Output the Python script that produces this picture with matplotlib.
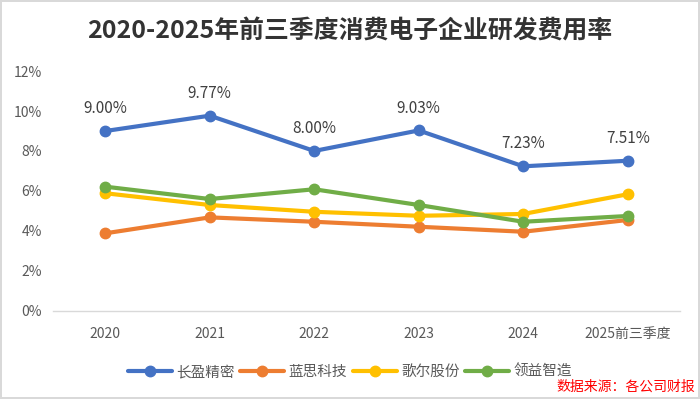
import matplotlib
matplotlib.use("Agg")
import matplotlib.pyplot as plt
from matplotlib.ticker import FuncFormatter, MultipleLocator

plt.rcParams['font.family'] = ['Noto Sans CJK SC', 'DejaVu Sans']

categories = ["2020", "2021", "2022", "2023", "2024", "2025前三季度"]
changying = [9.00, 9.77, 8.00, 9.03, 7.23, 7.51]
lansi = [3.87, 4.67, 4.45, 4.20, 3.95, 4.54]
goertek = [5.88, 5.29, 4.95, 4.75, 4.84, 5.83]
lingyi = [6.21, 5.59, 6.08, 5.29, 4.45, 4.74]
series_names = ["长盈精密", "蓝思科技", "歌尔股份", "领益智造"]
colors = ["#4472C4", "#ED7D31", "#FFC000", "#70AD47"]

fig = plt.figure(figsize=(7.0, 3.99), dpi=100)
fig.patch.set_facecolor("white")
fig.patch.set_edgecolor("#D9D9D9")
fig.patch.set_linewidth(1.5)

ax = fig.add_axes([53/700, 1 - 310.5/399, 627/700, (310.5 - 71.2)/399])
x = list(range(len(categories)))
for name, vals, c in zip(series_names, [changying, lansi, goertek, lingyi], colors):
    ax.plot(x, vals, color=c, lw=3, marker='o', ms=7.5, label=name, solid_capstyle='round')

for xi, v in zip(x, changying):
    ax.annotate(f"{v:.2f}%", (xi, v), xytext=(0, 10), textcoords="offset points",
                ha='center', va='bottom', fontsize=11, color="#404040")

ax.set_xlim(-0.5, 5.5)
ax.set_ylim(0, 12)
ax.yaxis.set_major_locator(MultipleLocator(2))
ax.yaxis.set_major_formatter(FuncFormatter(lambda v, p: f"{v:.0f}%"))
ax.set_xticks(x)
ax.set_xticklabels(categories)
for s in ["top", "right", "left"]:
    ax.spines[s].set_visible(False)
ax.spines["bottom"].set_color("#D9D9D9")
ax.spines["bottom"].set_linewidth(1)
ax.tick_params(axis='both', length=0, labelsize=10, colors="#595959")
ax.tick_params(axis='x', pad=12)
ax.tick_params(axis='y', pad=8)

fig.text(0.5, 1 - 32/399, "2020-2025年前三季度消费电子企业研发费用率", ha='center', va='center',
         fontsize=17.9, fontweight='bold', color="#333333")

fig.legend(loc='center', bbox_to_anchor=(350/700, 1 - 372/399), ncol=4, frameon=False,
           fontsize=10.5, handlelength=3, columnspacing=0.4, handletextpad=0.3,
           labelcolor="#595959")

fig.text(695/700, 1 - 387/399, "数据来源：各公司财报", ha='right', va='center',
         fontsize=10, color="#FF0000")

fig.savefig("out.png", dpi=100, facecolor=fig.get_facecolor(), edgecolor=fig.get_edgecolor())
